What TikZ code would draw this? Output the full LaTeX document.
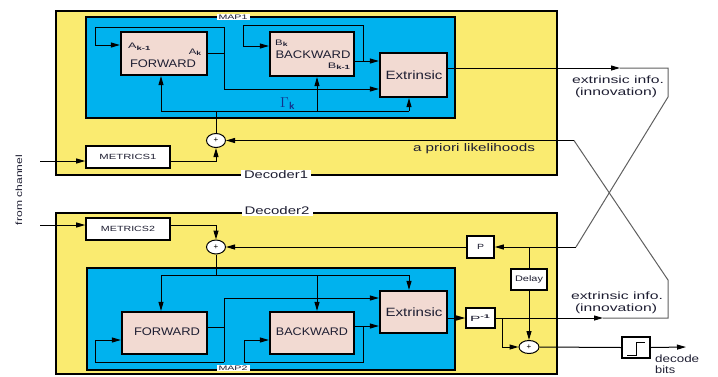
\documentclass[tikz,border=0pt]{standalone}
\usepackage{fontspec}
\setmainfont{Liberation Sans}
\usepackage{graphicx}
\usetikzlibrary{arrows.meta,shapes.geometric}
\definecolor{ybg}{RGB}{250,235,112}
\definecolor{bbg}{RGB}{0,178,238}
\definecolor{pbg}{RGB}{242,218,210}
\definecolor{txt}{RGB}{30,30,50}
\definecolor{glc}{RGB}{95,95,95}
\definecolor{gam}{RGB}{20,50,140}
\newcommand{\sw}[2]{\resizebox{#1pt}{\height}{#2}}
\begin{document}
\begin{tikzpicture}[x=1pt,y=-1pt,
  ybox/.style={draw=black,fill=ybg,line width=1.5pt},
  bbox/.style={draw=black,fill=bbg,line width=2.5pt},
  pbox/.style={draw=black,fill=pbg,line width=2.2pt,inner sep=0pt},
  wbox/.style={draw=black,fill=white,line width=1.6pt,inner sep=0pt,text=txt},
  adder/.style={ellipse,draw=black,fill=white,line width=1pt,inner sep=0pt,minimum width=19pt,minimum height=14pt,font=\fontsize{8}{8}\selectfont},
  conn/.style={line width=1pt,black},
  arr/.style={conn,-{Triangle[length=9pt,width=5pt]}},
  gconn/.style={line width=1pt,glc},
  lbl/.style={inner sep=0pt,text=txt},
  tag/.style={fill=white,inner xsep=2pt,inner ysep=1pt,text=txt}
]
\useasboundingbox (0,0) rectangle (718,376);

% backgrounds
\draw[ybox] (56,11) rectangle (557,175);
\draw[ybox] (56,213) rectangle (557,374);
\draw[bbox] (86,17) rectangle (455,118);
\draw[bbox] (87,268) rectangle (455,370);

% blocks
\node[pbox,minimum width=86pt,minimum height=43pt] (fwd1) at (164,53.5) {};
\node[pbox,minimum width=84pt,minimum height=44pt] (bwd1) at (312,54) {};
\node[pbox,minimum width=67pt,minimum height=44pt] (ext1) at (413.5,75) {};
\node[pbox,minimum width=85pt,minimum height=42pt] (fwd2) at (164.5,333) {};
\node[pbox,minimum width=84pt,minimum height=42pt] (bwd2) at (312,333) {};
\node[pbox,minimum width=67pt,minimum height=42pt] (ext2) at (413.5,312) {};

\node[wbox,minimum width=84pt,minimum height=22pt,font=\fontsize{7.5}{8}\selectfont] (met1) at (128,157) {\sw{57}{METRICS1}};
\node[wbox,minimum width=84pt,minimum height=22pt,font=\fontsize{7.5}{8}\selectfont] (met2) at (128,229) {\sw{54}{METRICS2}};
\node[wbox,minimum width=27pt,minimum height=22pt,font=\fontsize{7.5}{8}\selectfont] (P) at (480.5,247) {\sw{7}{P}};
\node[wbox,minimum width=36pt,minimum height=21pt,font=\fontsize{8}{8}\selectfont] (delay) at (529,279.5) {\sw{28}{Delay}};
\node[wbox,minimum width=29pt,minimum height=20pt,font=\fontsize{7.5}{8}\selectfont] (Pinv) at (480.5,318) {\sw{21}{P\textsuperscript{\bfseries -1}}};
\node[wbox,minimum width=28pt,minimum height=21pt] (lim) at (636,347.5) {};
\draw[line width=0.9pt,black] (627,355) -- (636,355) -- (636,342) -- (645,342);

\node[adder] (add1) at (216,140.5) {+};
\node[adder] (add2) at (216,247) {+};
\node[adder,minimum width=20pt,minimum height=13pt] (add3) at (529,347) {+};

% coordinates
\coordinate (ua) at (224,27);
\coordinate (ub) at (95,27);
\coordinate (uc) at (95,45);
\coordinate (ud) at (224,89);
\coordinate (ga) at (216,111);
\coordinate (gL) at (161,111);
\coordinate (gb) at (317,111);
\coordinate (gr) at (409,111);
\coordinate (ba) at (243,25);
\coordinate (bb) at (363,25);
\coordinate (bc) at (243,46);
\coordinate (bd) at (363,61);
\coordinate (o1) at (620,68);
\coordinate (x1) at (668,68);
\coordinate (x2) at (668,97);
\coordinate (x3) at (576,247);
\coordinate (pr) at (574,140.5);
\coordinate (y1) at (668,280);
\coordinate (y2) at (668,318);
\coordinate (o2) at (603,318);
\coordinate (c1) at (40,161);
\coordinate (c2) at (40,225);
\coordinate (la) at (216,275);
\coordinate (lL) at (161,275);
\coordinate (lB) at (317,275);
\coordinate (lR) at (409,275);
\coordinate (fe) at (224,327);
\coordinate (fa) at (224,298);
\coordinate (fb) at (224,362);
\coordinate (fc) at (95,362);
\coordinate (fd) at (95,340);
\coordinate (ka) at (363,326);
\coordinate (kb) at (363,362);
\coordinate (kc) at (244,362);
\coordinate (kd) at (244,340);
\coordinate (ta) at (502,318);
\coordinate (da) at (529,247);
\coordinate (out) at (686,347);

% upper decoder connections
\draw[conn] (fwd1.east) -- (fwd1.east -| ua);
\draw[conn] (ua) -- (ud);
\draw[arr] (ud) -- (ud -| ext1.west);
\draw[arr] (ua) -- (ub) -- (uc) -- (uc -| fwd1.west);
\draw[conn] (gL) -- (gr);
\draw[arr] (gL) -- (gL |- fwd1.south);
\draw[arr] (gb) -- (gb |- bwd1.south);
\draw[arr] (gr) -- (gr |- ext1.south);
\draw[conn] (add1.north) -- (ga);
\draw[arr] (bd -| bwd1.east) -- (bd -| ext1.west);
\draw[arr] (bd) -- (bb) -- (ba) -- (bc) -- (bc -| bwd1.west);
\draw[arr] (ext1.east |- o1) -- (o1);
\draw[gconn] (o1) -- (x1) -- (x2) -- (x3);
\draw[arr] (x3) -- (P.east);
\draw[gconn] (o2) -- (y2) -- (y1) -- (pr);
\draw[arr] (pr) -- (pr -| add1.east);
\draw[arr] (c1) -- (c1 -| met1.west);
\draw[arr] (c1 -| met1.east) -| (add1.south);

% lower decoder connections
\draw[arr] (c2) -- (c2 -| met2.west);
\draw[arr] (c2 -| met2.east) -| (add2.north);
\draw[arr] (P.west) -- (add2.east);
\draw[conn] (add2.south) -- (la);
\draw[conn] (lL) -- (lR);
\draw[arr] (lL) -- (lL |- fwd2.north);
\draw[arr] (lB) -- (lB |- bwd2.north);
\draw[arr] (lR) -- (lR |- ext2.north);
\draw[conn] (fe -| fwd2.east) -- (fe);
\draw[conn] (fa) -- (fb);
\draw[arr] (fa) -- (fa -| ext2.west);
\draw[arr] (fb) -- (fc) -- (fd) -- (fd -| fwd2.west);
\draw[arr] (ka -| bwd2.east) -- (ka -| ext2.west);
\draw[arr] (ka) -- (kb) -- (kc) -- (kd) -- (kd -| bwd2.west);
\draw[arr] (ext2.east |- ta) -- (Pinv.west);
\draw[arr] (Pinv.east) -- (o2);
\draw[arr] (ta) |- (add3.west);
\draw[conn] (da) -- (delay.north);
\draw[arr] (delay.south) -- (add3.north);
\draw[conn] (add3.east) -- (lim.west);
\draw[arr] (lim.east) -- (out);

% texts in blocks
\node[lbl,font=\fontsize{11}{13}\selectfont] (tf1) at (163,64) {\sw{66}{FORWARD}};
\node[lbl,font=\fontsize{8}{9}\selectfont,anchor=base west] (tak1) at (128,48.5) {\sw{23}{A\textsubscript{\bfseries k-1}}};
\node[lbl,font=\fontsize{8}{9}\selectfont,anchor=base east] (tak) at (202,54) {\sw{13}{A\textsubscript{\bfseries k}}};
\node[lbl,font=\fontsize{11}{13}\selectfont] (tbw1) at (313,55) {\sw{75}{BACKWARD}};
\node[lbl,font=\fontsize{8}{9}\selectfont,anchor=base west] (tbk) at (275,45) {\sw{13}{B\textsubscript{\bfseries k}}};
\node[lbl,font=\fontsize{8}{9}\selectfont,anchor=base east] (tbk1) at (351,68) {\sw{23}{B\textsubscript{\bfseries k-1}}};
\node[lbl,font=\fontsize{12}{14}\selectfont] (tex1) at (414,75.5) {\sw{57}{Extrinsic}};
\node[lbl,text=gam,font=\fontsize{15}{16}\selectfont,anchor=base west] (tg) at (280,107) {$\Gamma$\textsubscript{\sffamily\bfseries k}};
\node[lbl,font=\fontsize{11}{13}\selectfont] (tf2) at (167,332) {\sw{66}{FORWARD}};
\node[lbl,font=\fontsize{11}{13}\selectfont] (tbw2) at (312,332) {\sw{72}{BACKWARD}};
\node[lbl,font=\fontsize{12}{14}\selectfont] (tex2) at (414,312) {\sw{57}{Extrinsic}};

% tags
\node[tag,font=\fontsize{6.5}{7}\selectfont] (map1) at (233,17) {\sw{29}{MAP1}};
\node[tag,font=\fontsize{6.5}{7}\selectfont] (map2) at (233,368) {\sw{29}{MAP2}};
\node[tag,inner xsep=3pt,font=\fontsize{11}{12}\selectfont] (dec1) at (276,175) {\sw{64}{Decoder1}};
\node[tag,inner xsep=3pt,font=\fontsize{11}{12}\selectfont] (dec2) at (277,210.5) {\sw{65}{Decoder2}};

% free labels
\node[lbl,anchor=base,font=\fontsize{11}{12}\selectfont] (tap) at (474,151) {\sw{122}{a priori likelihoods}};
\node[lbl,anchor=base,font=\fontsize{10.5}{12}\selectfont] (tei1) at (618,83) {\sw{92}{extrinsic info.}};
\node[lbl,anchor=base,font=\fontsize{10.5}{12}\selectfont] (tin1) at (616,95) {\sw{82}{(innovation)}};
\node[lbl,anchor=base,font=\fontsize{10.5}{12}\selectfont] (tei2) at (617,299) {\sw{92}{extrinsic info.}};
\node[lbl,anchor=base,font=\fontsize{10.5}{12}\selectfont] (tin2) at (616,311) {\sw{82}{(innovation)}};
\node[lbl,anchor=base west,font=\fontsize{10.5}{12}\selectfont] (tdc) at (655,362) {\sw{44}{decode}};
\node[lbl,anchor=base west,font=\fontsize{10.5}{12}\selectfont] (tbt) at (655,373) {\sw{20}{bits}};
\node[lbl,rotate=90,font=\fontsize{9}{10}\selectfont] (tfc) at (19,190) {\sw{70}{from channel}};
\end{tikzpicture}
\end{document}
